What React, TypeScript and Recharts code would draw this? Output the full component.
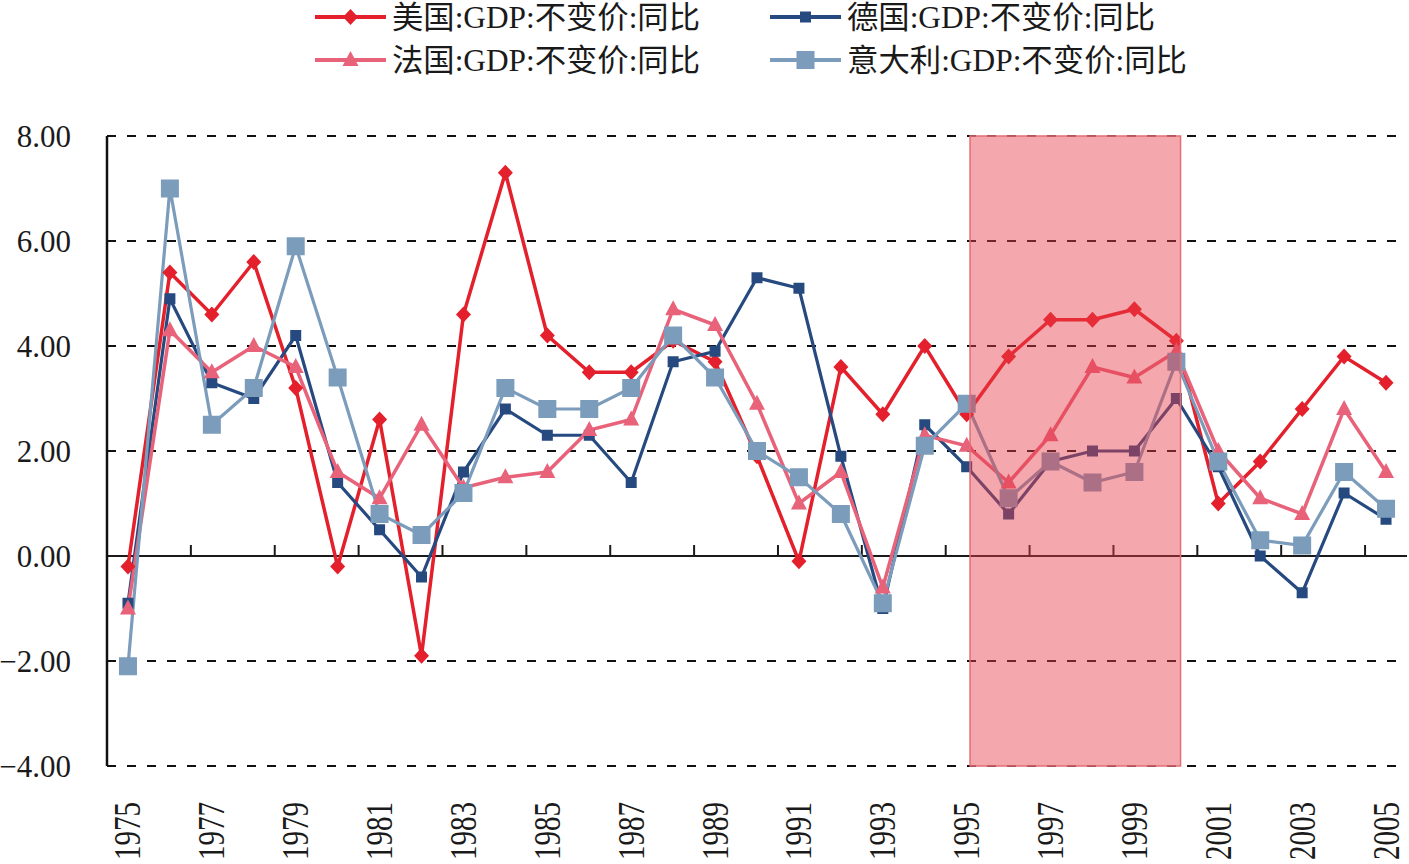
import React from 'react';
import {
  LineChart,
  Line,
  XAxis,
  YAxis,
  CartesianGrid,
  ReferenceLine,
  ReferenceArea,
} from 'recharts';

// Real GDP, year-over-year growth (%)
const years = [
  1975, 1976, 1977, 1978, 1979, 1980, 1981, 1982, 1983, 1984, 1985,
  1986, 1987, 1988, 1989, 1990, 1991, 1992, 1993, 1994, 1995,
  1996, 1997, 1998, 1999, 2000, 2001, 2002, 2003, 2004, 2005,
];
const usGrowth = [
  -0.2, 5.4, 4.6, 5.6, 3.2, -0.2, 2.6, -1.9, 4.6, 7.3, 4.2,
  3.5, 3.5, 4.1, 3.7, 1.9, -0.1, 3.6, 2.7, 4.0, 2.7,
  3.8, 4.5, 4.5, 4.7, 4.1, 1.0, 1.8, 2.8, 3.8, 3.3,
];
const deGrowth = [
  -0.9, 4.9, 3.3, 3.0, 4.2, 1.4, 0.5, -0.4, 1.6, 2.8, 2.3,
  2.3, 1.4, 3.7, 3.9, 5.3, 5.1, 1.9, -1.0, 2.5, 1.7,
  0.8, 1.8, 2.0, 2.0, 3.0, 1.7, 0.0, -0.7, 1.2, 0.7,
];
const frGrowth = [
  -1.0, 4.3, 3.5, 4.0, 3.6, 1.6, 1.1, 2.5, 1.3, 1.5, 1.6,
  2.4, 2.6, 4.7, 4.4, 2.9, 1.0, 1.6, -0.6, 2.3, 2.1,
  1.4, 2.3, 3.6, 3.4, 3.9, 2.0, 1.1, 0.8, 2.8, 1.6,
];
const itGrowth = [
  -2.1, 7.0, 2.5, 3.2, 5.9, 3.4, 0.8, 0.4, 1.2, 3.2, 2.8,
  2.8, 3.2, 4.2, 3.4, 2.0, 1.5, 0.8, -0.9, 2.1, 2.9,
  1.1, 1.8, 1.4, 1.6, 3.7, 1.8, 0.3, 0.2, 1.6, 0.9,
];

const yTicks = [-4, -2, 0, 2, 4, 6, 8];
const yearLabels = [
  1975, 1977, 1979, 1981, 1983, 1985, 1987, 1989,
  1991, 1993, 1995, 1997, 1999, 2001, 2003, 2005,
];
// small marks on the zero line, between every second pair of years
const zeroLineMarks = [
  1976.5, 1978.5, 1980.5, 1982.5, 1984.5, 1986.5, 1988.5, 1990.5,
  1992.5, 1994.5, 1996.5, 1998.5, 2000.5, 2002.5, 2004.5,
];
const shadeFrom = 1995.08;
const shadeTo = 2000.1;

const seriesNames = {
  us: '美国:GDP:不变价:同比',
  de: '德国:GDP:不变价:同比',
  fr: '法国:GDP:不变价:同比',
  it: '意大利:GDP:不变价:同比',
};

const colors = {
  us: '#E3202B',
  de: '#264A80',
  fr: '#E8627A',
  it: '#7C9CBB',
};

const data = years.map((year, i) => ({
  year,
  us: usGrowth[i],
  de: deGrowth[i],
  fr: frGrowth[i],
  it: itGrowth[i],
}));

const serif = '"Liberation Serif", "DejaVu Serif", serif';
const legendFont = '"Liberation Serif", "DejaVu Serif", "Noto Sans CJK SC", serif';

type Shape = 'diamond' | 'smallSquare' | 'triangle' | 'bigSquare';

function markerShape(shape: Shape, cx: number, cy: number, color: string, key?: string | number) {
  switch (shape) {
    case 'diamond':
      return (
        <polygon
          key={key}
          points={`${cx},${cy - 8} ${cx + 7.5},${cy} ${cx},${cy + 8} ${cx - 7.5},${cy}`}
          fill={color}
        />
      );
    case 'smallSquare':
      return <rect key={key} x={cx - 5.5} y={cy - 5.5} width={11} height={11} fill={color} />;
    case 'triangle':
      return (
        <polygon
          key={key}
          points={`${cx},${cy - 9} ${cx + 8},${cy + 6} ${cx - 8},${cy + 6}`}
          fill={color}
        />
      );
    case 'bigSquare':
    default:
      return <rect key={key} x={cx - 9} y={cy - 9} width={18} height={18} fill={color} />;
  }
}

const makeDot = (shape: Shape, color: string) => (props: any) => {
  const { cx, cy, index } = props;
  if (cx == null || cy == null) return <g key={`e-${index}`} />;
  return markerShape(shape, cx, cy, color, `d-${index}`);
};

const YTick = (props: any) => {
  const { y, payload } = props;
  const label = Number(payload.value).toFixed(2).replace('-', '\u2212');
  return (
    <text
      x={71}
      y={y + 10.5}
      textAnchor="end"
      fontFamily={serif}
      fontSize={31}
      style={{ fontFamily: serif, fontSize: 31 }}
      fill="#1a1a1a"
    >
      {label}
    </text>
  );
};

const XTick = (props: any) => {
  const { x, payload } = props;
  return (
    <text
      transform={`translate(${x + 12.5}, 860) rotate(-90)`}
      textAnchor="start"
      fontFamily={serif}
      fontSize={37}
      style={{ fontFamily: serif, fontSize: 37 }}
      textLength={58}
      lengthAdjust="spacingAndGlyphs"
      fill="#1a1a1a"
    >
      {String(payload.value)}
    </text>
  );
};

const legendItems: { key: keyof typeof seriesNames; shape: Shape; x: number; y: number; width: number }[] = [
  { key: 'us', shape: 'diamond', x: 315, y: 17, width: 308 },
  { key: 'de', shape: 'smallSquare', x: 770, y: 17, width: 308 },
  { key: 'fr', shape: 'triangle', x: 315, y: 60, width: 308 },
  { key: 'it', shape: 'bigSquare', x: 770, y: 60, width: 340 },
];

const LegendBlock = () => (
  <svg width={1409} height={90} style={{ position: 'absolute', left: 0, top: 0 }}>
    {legendItems.map((item) => (
      <g key={item.key}>
        <line
          x1={item.x}
          x2={item.x + 71}
          y1={item.y}
          y2={item.y}
          stroke={colors[item.key]}
          strokeWidth={4}
        />
        {markerShape(item.shape, item.x + 35.5, item.y, colors[item.key])}
        <text
          x={item.x + 77}
          y={item.y + 11}
          fontFamily={legendFont}
          fontSize={31}
          style={{ fontFamily: legendFont, fontSize: 31 }}
          textLength={item.width}
          lengthAdjust="spacingAndGlyphs"
          fill="#1a1a1a"
        >
          {seriesNames[item.key]}
        </text>
      </g>
    ))}
  </svg>
);

export default function App() {
  return (
    <div
      style={{
        position: 'absolute',
        left: 0,
        top: 0,
        width: 1409,
        height: 864,
        background: '#ffffff',
        fontFamily: serif,
      }}
    >
      <LineChart
        width={1409}
        height={864}
        data={data}
        margin={{ top: 136, right: 2, bottom: 0, left: 0 }}
      >
        <CartesianGrid
          horizontal
          vertical={false}
          stroke="#111"
          strokeWidth={2.2}
          strokeDasharray="9 11"
        />
        <XAxis
          dataKey="year"
          type="number"
          domain={[1974.5, 2005.5]}
          ticks={yearLabels}
          interval={0}
          allowDataOverflow
          axisLine={false}
          tickLine={false}
          height={98}
          tick={<XTick />}
        />
        <YAxis
          type="number"
          domain={[-4, 8]}
          ticks={yTicks}
          interval={0}
          width={107}
          axisLine={{ stroke: '#111', strokeWidth: 2.5 }}
          tickLine={false}
          tick={<YTick />}
        />
        <ReferenceLine y={0} stroke="#1a1a1a" strokeWidth={2.2} />
        {zeroLineMarks.map((m) => (
          <ReferenceLine
            key={m}
            segment={[
              { x: m, y: 0 },
              { x: m, y: 0.21 },
            ]}
            stroke="#1a1a1a"
            strokeWidth={2}
          />
        ))}
        <Line
          type="linear"
          dataKey="us"
          name={seriesNames.us}
          stroke={colors.us}
          strokeWidth={3.5}
          dot={makeDot('diamond', colors.us)}
          activeDot={false}
          isAnimationActive={false}
        />
        <Line
          type="linear"
          dataKey="de"
          name={seriesNames.de}
          stroke={colors.de}
          strokeWidth={3.2}
          dot={makeDot('smallSquare', colors.de)}
          activeDot={false}
          isAnimationActive={false}
        />
        <Line
          type="linear"
          dataKey="fr"
          name={seriesNames.fr}
          stroke={colors.fr}
          strokeWidth={3.5}
          dot={makeDot('triangle', colors.fr)}
          activeDot={false}
          isAnimationActive={false}
        />
        <Line
          type="linear"
          dataKey="it"
          name={seriesNames.it}
          stroke={colors.it}
          strokeWidth={3.2}
          dot={makeDot('bigSquare', colors.it)}
          activeDot={false}
          isAnimationActive={false}
        />
        <ReferenceArea
          x1={shadeFrom}
          x2={shadeTo}
          y1={-4}
          y2={8}
          fill="rgb(230,60,70)"
          fillOpacity={0.45}
          stroke="rgb(228,110,118)"
          strokeWidth={1.5}
          zIndex={1000}
          ifOverflow="visible"
        />
      </LineChart>
      <LegendBlock />
    </div>
  );
}
